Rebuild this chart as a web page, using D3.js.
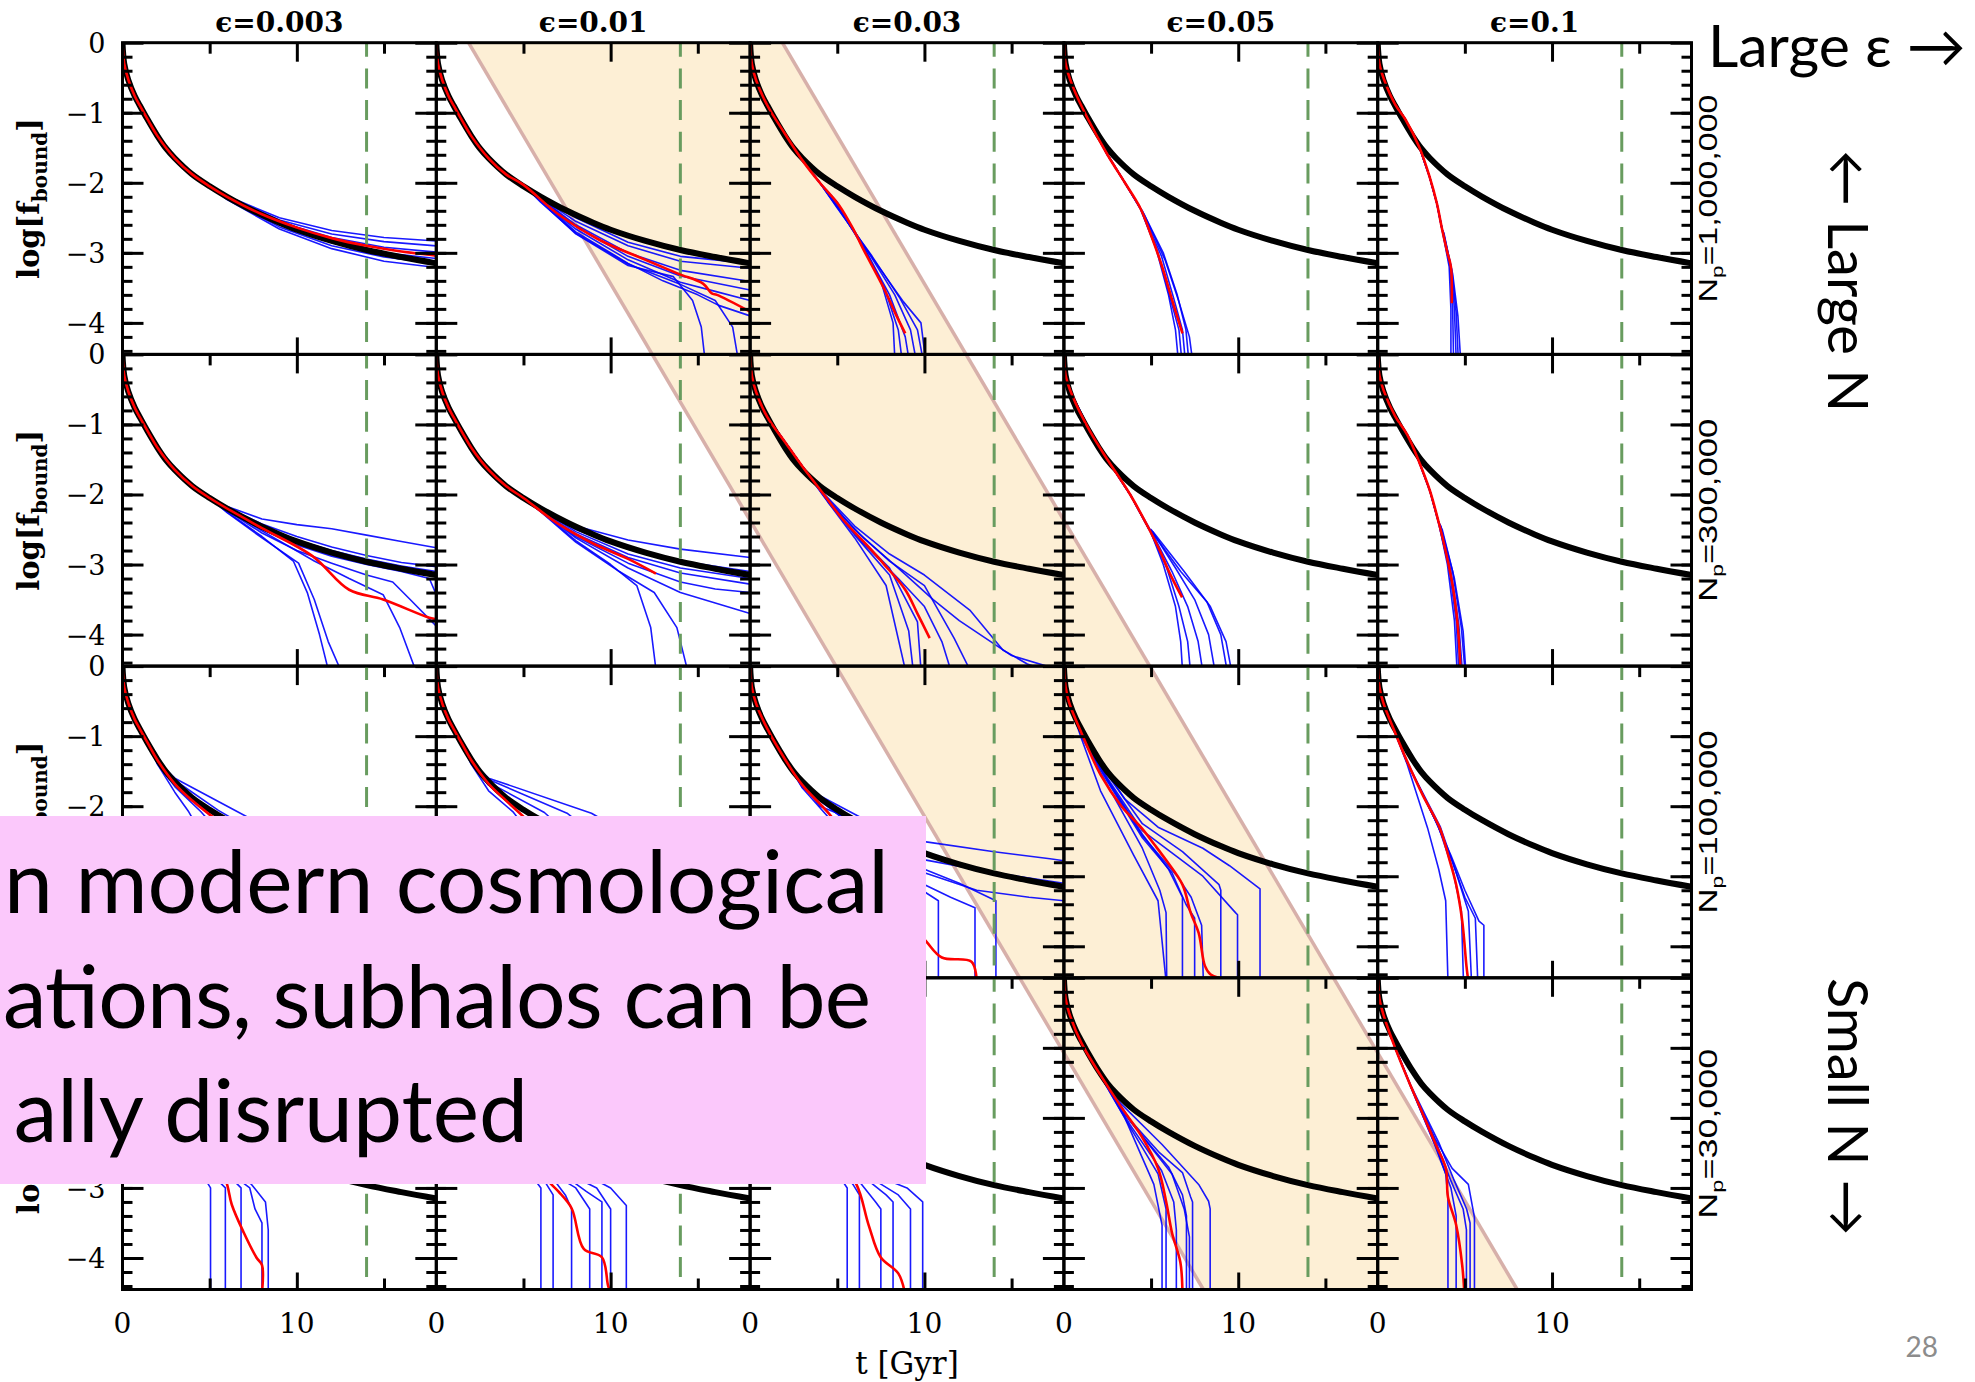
<!DOCTYPE html>
<html>
<head>
<meta charset="utf-8">
<script src="https://cdn.jsdelivr.net/npm/d3@7"></script>
<style>body{margin:0;background:#fff}</style>
</head>
<body>
<svg id="fig" width="1975" height="1382"></svg>
<script>
// column / row labels
const epsLabels = ["ϵ=0.003", "ϵ=0.01", "ϵ=0.03", "ϵ=0.05", "ϵ=0.1"];
const npLabels = ["1,000,000", "300,000", "100,000", "30,000"];
const npLengths = [208, 183, 183, 170];
const yTickLabels = [0, -1, -2, -3, -4];
const xTickLabels = [0, 10];
const hubbleT = 14;            // green dashed line
const bandTop = [1, 1.85];     // [column, t] of left band edge at top of grid
const bandBottom = [3, 8.0];   // [column, t] of left band edge at bottom of grid
// only the right-hand part of the slide text is on screen
const boxLines = ["n modern cosmological", "ations, subhalos can be", "ally disrupted"];

// black reference curve
const blackT = [0, 0.1, 0.33, 0.7, 1.0, 1.4, 2.0, 2.5, 3.0, 4.0, 5.0, 6.0, 7.5, 9.0, 10.0, 12.0, 14.0, 16.0, 18.0];
const blackLogF = [0, -0.3, -0.53, -0.76, -0.9, -1.08, -1.33, -1.51, -1.65, -1.88, -2.05, -2.2, -2.4, -2.57, -2.67, -2.83, -2.96, -3.06, -3.15];

// red curve per panel, [t, log f]; row = N_p, index = epsilon
const red1M = [
  [[0,0],[0.1,-0.3],[0.35,-0.54],[0.7,-0.76],[1,-0.9],[1.5,-1.12],[2,-1.33],[3,-1.65],[4,-1.88],[5,-2.05],[6,-2.2],[8,-2.45],[10,-2.64],[12,-2.79],[14,-2.9],[16,-2.98],[18,-3.04]],
  [[0,0],[0.1,-0.3],[0.35,-0.54],[0.7,-0.76],[1,-0.9],[1.5,-1.12],[2,-1.33],[3,-1.65],[4,-1.88],[5,-2.03],[7,-2.45],[9.4,-2.82],[12,-3.1],[13.9,-3.3],[15.3,-3.44],[15.8,-3.58],[16.1,-3.6],[18,-3.84]],
  [[0,0],[0.1,-0.3],[0.35,-0.54],[1,-0.9],[2,-1.3],[3,-1.68],[4,-2.0],[5.1,-2.32],[6,-2.7],[6.5,-2.95],[7.7,-3.52],[8.4,-3.9],[8.9,-4.15]],
  [[0,0],[0.1,-0.3],[0.5,-0.62],[1.4,-1.1],[2.5,-1.6],[3.5,-2.0],[4.4,-2.37],[5.0,-2.75],[5.6,-3.17],[6.3,-3.75],[6.8,-4.15]],
  [[0,0],[0.1,-0.3],[0.37,-0.53],[1.0,-0.88],[1.6,-1.1],[2.4,-1.5],[2.97,-1.91],[3.4,-2.3],[3.7,-2.67],[4.0,-3.0],[4.2,-3.2],[4.25,-3.72]]
];
const red300k = [
  [[0,0],[0.1,-0.3],[0.35,-0.54],[0.7,-0.76],[1,-0.9],[1.5,-1.12],[2,-1.33],[3,-1.65],[4,-1.88],[5,-2.05],[6,-2.2],[8,-2.48],[10.9,-2.88],[13,-3.36],[14.95,-3.5],[17.6,-3.76],[18,-3.78]],
  [[0,0],[0.1,-0.3],[0.35,-0.54],[0.7,-0.76],[1,-0.9],[1.5,-1.12],[2,-1.33],[3,-1.65],[4,-1.88],[5,-2.05],[7,-2.42],[9,-2.7],[11,-2.92],[12.6,-3.13]],
  [[0,0],[0.1,-0.3],[0.35,-0.54],[1,-0.9],[2,-1.25],[3,-1.6],[4.2,-1.99],[5.3,-2.35],[6.5,-2.67],[7.7,-3.0],[8.9,-3.36],[9.6,-3.7],[10.3,-4.05]],
  [[0,0],[0.1,-0.3],[0.47,-0.58],[1.5,-1.1],[2.57,-1.53],[3.8,-2.0],[4.9,-2.5],[5.5,-2.8],[6.08,-3.13],[6.78,-3.47]],
  [[0,0],[0.1,-0.3],[0.35,-0.52],[1.0,-0.88],[1.7,-1.15],[2.4,-1.55],[3.0,-1.95],[3.5,-2.4],[3.8,-2.7],[4.3,-3.3],[4.6,-3.9],[4.75,-4.5]]
];
const red100k = [
  [[0,0],[0.1,-0.3],[0.35,-0.54],[0.7,-0.76],[1,-0.9],[1.5,-1.12],[2,-1.34],[3,-1.68],[4,-1.92],[5,-2.12],[6,-2.3],[7,-2.6],[8,-3.0],[9,-3.5],[10,-4.0],[10.5,-4.5]],
  [[0,0],[0.1,-0.3],[0.35,-0.54],[0.7,-0.76],[1,-0.9],[1.5,-1.12],[2,-1.34],[3,-1.68],[4,-1.92],[5,-2.15],[6,-2.4],[8,-3.0],[10,-3.6],[11,-4.5]],
  [[0,0],[0.1,-0.3],[0.35,-0.54],[1,-0.9],[2,-1.33],[3,-1.7],[4.5,-2.1],[6,-2.6],[7.5,-3.1],[9,-3.6],[10.1,-3.93],[11,-4.16],[12.7,-4.22],[13.0,-4.5]],
  [[0,0],[0.1,-0.3],[0.3,-0.52],[1,-0.95],[2.1,-1.55],[3.3,-2.0],[4.45,-2.31],[5.2,-2.55],[5.86,-2.77],[6.8,-3.12],[7.27,-3.52],[7.73,-3.81],[8.09,-4.28],[8.4,-4.4],[8.9,-4.45]],
  [[0,0],[0.1,-0.3],[0.32,-0.52],[1,-0.95],[1.69,-1.36],[2.6,-1.85],[3.56,-2.31],[4.1,-2.75],[4.5,-3.12],[4.85,-3.64],[5.09,-4.28],[5.2,-4.5]]
];
const red30k = [
  [[0,0],[0.1,-0.3],[0.35,-0.54],[0.7,-0.76],[1,-0.9],[2,-1.36],[3,-1.75],[4,-2.1],[5,-2.5],[5.92,-2.89],[6.27,-3.24],[6.96,-3.64],[7.7,-4.0],[8.0,-4.1],[8.0,-4.5]],
  [[0,0],[0.1,-0.3],[0.35,-0.54],[1,-0.9],[2,-1.36],[3,-1.75],[4.5,-2.3],[6.37,-2.89],[7.0,-3.05],[7.76,-3.29],[8.46,-3.87],[9.5,-3.99],[9.85,-4.39],[10.0,-4.5]],
  [[0,0],[0.1,-0.3],[0.35,-0.54],[1,-0.92],[2,-1.4],[3,-1.8],[4.5,-2.4],[6.1,-2.95],[6.8,-3.53],[7.49,-3.99],[8.5,-4.22],[8.88,-4.5]],
  [[0,0],[0.1,-0.3],[0.3,-0.5],[1,-0.93],[2.1,-1.39],[3.3,-1.85],[4.45,-2.26],[5.4,-2.72],[5.86,-3.19],[6.21,-3.65],[6.68,-4.06],[6.8,-4.5]],
  [[0,0],[0.1,-0.3],[0.32,-0.52],[1,-1.0],[1.92,-1.56],[2.6,-1.95],[3.33,-2.38],[3.91,-2.72],[4.03,-3.13],[4.5,-3.53],[4.85,-4.11],[4.97,-4.5]]
];

// blue realisations: each branch leaves the red track at its first point
const blue1M = [
  [
    [[6,-2.19],[9,-2.5],[12,-2.68],[15,-2.78],[18,-2.83]],
    [[6,-2.2],[9,-2.53],[12,-2.73],[15,-2.84],[18,-2.9]],
    [[6,-2.21],[9,-2.56],[12,-2.78],[15,-2.92],[18,-2.99]],
    [[6,-2.22],[9,-2.6],[12,-2.85],[15,-3.0],[18,-3.08]],
    [[6,-2.23],[9,-2.63],[12,-2.9],[15,-3.06],[18,-3.15]],
    [[6,-2.24],[9,-2.66],[12,-2.94],[15,-3.12],[18,-3.21]]
  ],
  [
    [[5,-2.04],[8,-2.5],[11,-2.85],[14,-3.05],[18,-3.15]],
    [[5,-2.05],[8,-2.55],[11,-2.9],[14,-3.12],[18,-3.22]],
    [[5.5,-2.13],[8,-2.6],[11,-3.0],[14,-3.25],[18,-3.41]],
    [[5.5,-2.14],[8,-2.62],[11,-3.05],[14,-3.33],[16,-3.43],[18,-3.53]],
    [[5.5,-2.15],[8,-2.66],[11,-3.1],[14,-3.42],[16,-3.55],[18,-3.68]],
    [[6,-2.25],[8,-2.7],[11,-3.15],[13,-3.4],[15,-3.6],[16.2,-3.75],[18,-3.9]],
    [[6,-2.27],[8,-2.73],[11,-3.18],[13.6,-3.34],[14.7,-3.68],[15.2,-4.06],[15.4,-4.5]],
    [[6,-2.28],[8,-2.72],[11,-3.16],[14,-3.45],[16,-3.68],[17,-4.06],[17.3,-4.5]]
  ],
  [
    [[5,-2.28],[6.5,-2.9],[7.5,-3.4],[8.2,-4.0],[8.3,-4.5]],
    [[5,-2.3],[6.5,-2.93],[7.7,-3.5],[8.5,-4.1],[8.7,-4.5]],
    [[5,-2.33],[6.7,-3.0],[8.0,-3.6],[8.9,-4.2],[9.1,-4.5]],
    [[5,-2.35],[6.8,-3.0],[8.3,-3.6],[9.2,-4.1],[9.5,-4.5]],
    [[5,-2.36],[7.0,-3.05],[8.6,-3.65],[9.6,-4.1],[9.9,-4.5]],
    [[5,-2.34],[7.1,-3.1],[8.8,-3.7],[9.8,-4.0],[10.05,-4.5]]
  ],
  [
    [[4.4,-2.37],[5.3,-2.95],[6.0,-3.6],[6.4,-4.1],[6.55,-4.5]],
    [[4.4,-2.38],[5.4,-3.0],[6.1,-3.65],[6.6,-4.1],[6.75,-4.5]],
    [[4.5,-2.42],[5.6,-3.05],[6.3,-3.65],[6.8,-4.1],[6.95,-4.5]],
    [[4.5,-2.4],[5.7,-3.0],[6.5,-3.6],[7.0,-4.1],[7.15,-4.5]],
    [[4.6,-2.45],[5.8,-3.1],[6.6,-3.7],[7.2,-4.2],[7.36,-4.5]]
  ],
  [
    [[3.7,-2.67],[4.1,-3.2],[4.2,-3.8],[4.2,-4.5]],
    [[3.7,-2.68],[4.15,-3.2],[4.3,-3.8],[4.35,-4.5]],
    [[3.75,-2.7],[4.2,-3.2],[4.4,-3.8],[4.5,-4.5]],
    [[3.8,-2.72],[4.25,-3.25],[4.5,-3.85],[4.62,-4.5]],
    [[3.8,-2.74],[4.3,-3.3],[4.6,-3.9],[4.75,-4.5]]
  ]
];
const blue300k = [
  [
    [[6,-2.17],[8,-2.35],[10,-2.43],[12,-2.49],[14,-2.58],[16,-2.67],[18,-2.76]],
    [[6,-2.19],[8,-2.42],[10,-2.6],[12,-2.75],[14,-2.87],[16,-2.97],[18,-3.03]],
    [[6,-2.2],[8,-2.45],[10,-2.65],[12,-2.8],[14,-2.92],[16,-3.02],[18,-3.1]],
    [[6,-2.22],[8,-2.5],[10,-2.72],[12,-2.88],[14,-3.0],[16,-3.1],[17.6,-3.2],[18,-3.43]],
    [[6,-2.23],[8,-2.55],[10,-2.8],[12,-2.98],[14,-3.15],[15.5,-3.25],[16.5,-3.5],[18,-3.88]],
    [[6,-2.25],[8,-2.6],[9.8,-2.95],[10.6,-3.4],[11.3,-4.0],[11.8,-4.5]],
    [[6,-2.26],[8,-2.62],[10.1,-2.98],[11,-3.5],[11.8,-4.1],[12.5,-4.5]],
    [[6,-2.21],[8,-2.52],[11,-2.95],[13,-3.2],[14.95,-3.43],[15.9,-3.9],[16.8,-4.5]]
  ],
  [
    [[5,-2.04],[8,-2.45],[11,-2.65],[14,-2.78],[18,-2.9]],
    [[5,-2.05],[8,-2.5],[11,-2.78],[14,-2.95],[18,-3.1]],
    [[5,-2.06],[8,-2.53],[11,-2.85],[14,-3.05],[18,-3.2]],
    [[5,-2.07],[8,-2.56],[11,-2.9],[14,-3.12],[18,-3.28]],
    [[5.5,-2.14],[8,-2.6],[11,-2.98],[14,-3.25],[16,-3.35],[18,-3.4]],
    [[5.5,-2.15],[8,-2.62],[11,-3.05],[14,-3.4],[18,-3.7]],
    [[6,-2.24],[8,-2.66],[10,-3.0],[11.5,-3.3],[12.3,-3.9],[12.6,-4.5]],
    [[6,-2.25],[8,-2.68],[10.5,-3.1],[12.5,-3.4],[13.8,-3.9],[14.4,-4.5]]
  ],
  [
    [[4.2,-1.98],[6,-2.45],[8,-2.85],[10,-3.15],[12.6,-3.65],[14.5,-4.22],[15.9,-4.42],[16.8,-4.5]],
    [[4.2,-1.99],[6,-2.5],[8,-2.95],[10,-3.3],[11.7,-4.05],[12.6,-4.5]],
    [[4.2,-2.0],[6,-2.55],[8,-3.05],[9.6,-3.82],[9.8,-4.5]],
    [[4.2,-2.01],[6,-2.58],[8,-3.15],[9.1,-3.95],[9.35,-4.5]],
    [[4.2,-2.02],[6,-2.62],[7.8,-3.3],[8.9,-4.5]],
    [[4.5,-2.1],[6.5,-2.62],[8.5,-3.05],[10.5,-3.5],[12,-3.8],[13.5,-4.05],[15,-4.3],[17,-4.45]],
    [[4.5,-2.12],[6.5,-2.7],[8.5,-3.2],[10,-3.6],[11,-4.1],[11.5,-4.5]]
  ],
  [
    [[4.9,-2.48],[5.7,-3.0],[6.4,-3.6],[6.7,-4.1],[6.8,-4.5]],
    [[4.9,-2.5],[5.9,-3.05],[6.6,-3.6],[7.1,-4.1],[7.25,-4.5]],
    [[5,-2.52],[6.2,-3.1],[7.1,-3.6],[7.7,-4.1],[7.95,-4.5]],
    [[5,-2.5],[6.4,-3.05],[7.5,-3.5],[8.3,-4.0],[8.65,-4.5]],
    [[5.1,-2.55],[6.7,-3.1],[8.2,-3.53],[9.0,-4.0],[9.35,-4.5]],
    [[5.1,-2.53],[6.9,-3.1],[8.4,-3.6],[9.3,-4.1],[9.6,-4.5]]
  ],
  [
    [[3.5,-2.4],[4.0,-3.0],[4.4,-3.8],[4.55,-4.5]],
    [[3.5,-2.42],[4.1,-3.05],[4.5,-3.8],[4.65,-4.5]],
    [[3.6,-2.45],[4.2,-3.1],[4.65,-3.85],[4.85,-4.5]],
    [[3.6,-2.44],[4.3,-3.1],[4.8,-3.9],[5.0,-4.5]],
    [[3.7,-2.5],[4.4,-3.2],[4.9,-3.95],[5.05,-4.5]]
  ]
];
const blue100k = [
  [
    [[2,-1.4],[3,-1.8],[3.8,-2.08],[5,-2.6],[6,-3.2],[6.5,-4.5]],
    [[2,-1.39],[3,-1.72],[4.5,-2.08],[6,-2.5],[7.5,-3.2],[8,-4.5]],
    [[2,-1.38],[3,-1.66],[5,-2.05],[7,-2.4],[9,-2.8],[10,-4.5]],
    [[2,-1.37],[3,-1.63],[5.5,-2.06],[7.5,-2.35],[10,-2.7],[11,-4.5]],
    [[2,-1.36],[3,-1.6],[6.6,-2.08],[9,-2.4],[12,-2.8],[14,-4.5]]
  ],
  [
    [[2,-1.4],[3,-1.78],[4.4,-2.08],[6,-2.6],[7,-4.5]],
    [[2,-1.39],[3,-1.7],[5.3,-2.08],[7,-2.5],[9,-4.5]],
    [[2,-1.38],[3,-1.66],[6.2,-2.09],[8,-2.5],[11,-4.5]],
    [[2,-1.37],[3,-1.62],[7.5,-2.1],[10,-2.6],[13,-4.5]],
    [[2,-1.36],[3,-1.6],[8.9,-2.1],[11,-2.4],[14,-2.6],[15,-4.5]]
  ],
  [
    [[3,-1.68],[4.0,-2.0],[6,-2.2],[8,-2.35],[10.1,-2.51],[14,-2.65],[17.2,-2.75],[18,-2.78]],
    [[3,-1.7],[5,-2.1],[7,-2.4],[10.1,-2.77],[14,-2.95],[18,-3.1]],
    [[3,-1.71],[5.2,-2.15],[7.5,-2.6],[10,-2.95],[13,-3.2],[16,-3.3],[18,-3.35]],
    [[3,-1.72],[5.6,-2.2],[8,-2.9],[10.8,-3.35],[10.8,-4.5]],
    [[3,-1.73],[6,-2.3],[9,-3.0],[11.5,-3.3],[12.9,-3.45],[12.9,-4.5]],
    [[3,-1.72],[6.27,-2.15],[9,-2.8],[12,-3.1],[14.1,-3.35],[14.1,-4.5]],
    [[3,-1.74],[5,-2.3],[7,-3.0],[8.5,-4.0],[9,-4.5]]
  ],
  [
    [[1,-0.95],[2.1,-1.38],[3.5,-1.9],[5.4,-2.3],[7.97,-2.6],[9.5,-2.85],[11.25,-3.18],[11.25,-4.5]],
    [[1,-0.96],[2.5,-1.55],[4.5,-2.25],[6.8,-2.65],[8.9,-3.12],[9.0,-3.2],[9.0,-4.5]],
    [[1,-0.97],[2.5,-1.6],[4.5,-2.35],[7.97,-3.0],[9.84,-3.52],[9.96,-3.55],[9.96,-4.5]],
    [[1,-0.98],[2.5,-1.62],[4.5,-2.4],[6.0,-2.9],[6.8,-3.3],[6.8,-4.5]],
    [[1,-1.0],[2.5,-1.7],[4.5,-2.6],[5.5,-3.2],[5.86,-3.52],[5.9,-4.5]],
    [[1,-1.03],[2.1,-1.78],[4.0,-2.7],[5.4,-3.35],[5.86,-4.5]],
    [[1,-0.99],[2.5,-1.65],[4.5,-2.45],[6.2,-2.95],[7.0,-3.4],[7.5,-3.6],[7.5,-4.5]],
    [[1,-0.98],[2.5,-1.63],[4.5,-2.42],[6.5,-3.0],[7.3,-3.3],[7.9,-3.7],[8.0,-4.5]]
  ],
  [
    [[1.69,-1.4],[2.86,-2.31],[3.5,-2.9],[3.9,-3.35],[4.03,-4.5]],
    [[1.69,-1.37],[3.3,-2.2],[4.2,-2.7],[5.0,-3.2],[5.81,-3.64],[6.09,-3.7],[6.09,-4.5]],
    [[1.69,-1.37],[3.4,-2.25],[4.3,-2.8],[5.0,-3.3],[5.6,-3.6],[5.74,-4.5]],
    [[1.69,-1.38],[3.5,-2.3],[4.3,-2.9],[4.8,-3.5],[4.92,-4.5]],
    [[1.69,-1.38],[3.6,-2.3],[4.5,-2.95],[5.2,-3.5],[5.38,-4.5]]
  ]
];
const blue30k = [
  [
    [[2,-1.4],[3.5,-2.2],[4.8,-2.9],[5.05,-3.0],[5.05,-4.5]],
    [[2,-1.41],[4,-2.3],[5.5,-2.9],[5.9,-3.0],[5.9,-4.5]],
    [[2,-1.39],[4,-2.2],[6,-2.8],[6.8,-3.0],[6.8,-4.5]],
    [[2,-1.4],[4,-2.15],[6.5,-2.85],[7.3,-3.0],[7.6,-3.3],[8.0,-3.5],[8.0,-4.5]],
    [[2,-1.38],[4,-2.1],[6.5,-2.8],[7.4,-2.95],[8.2,-3.2],[8.36,-3.6],[8.36,-4.5]]
  ],
  [
    [[2,-1.41],[4,-2.3],[5.7,-2.9],[6.0,-3.0],[6.0,-4.5]],
    [[2,-1.4],[4,-2.2],[6.2,-2.9],[6.7,-3.1],[6.7,-4.5]],
    [[2,-1.39],[4,-2.15],[6.8,-2.9],[7.4,-3.1],[7.76,-3.3],[7.76,-4.5]],
    [[2,-1.39],[4,-2.12],[7,-2.85],[8,-3.0],[8.8,-3.3],[8.8,-4.5]],
    [[2,-1.38],[4,-2.1],[7.5,-2.85],[8.6,-3.05],[9.5,-3.2],[9.5,-4.5]],
    [[2,-1.38],[4,-2.05],[8,-2.85],[9.2,-3.0],[10.0,-3.3],[10.0,-4.5]],
    [[2,-1.37],[4,-2.0],[8.5,-2.8],[10,-3.0],[10.9,-3.25],[10.9,-4.5]]
  ],
  [
    [[2,-1.43],[4,-2.3],[5.3,-2.9],[5.57,-3.0],[5.57,-4.5]],
    [[2,-1.42],[4,-2.25],[5.9,-2.95],[6.27,-3.1],[6.27,-4.5]],
    [[2,-1.41],[4,-2.2],[6.4,-2.95],[7.2,-3.2],[7.5,-3.3],[7.5,-4.5]],
    [[2,-1.4],[4,-2.15],[6.8,-2.9],[7.8,-3.1],[8.2,-3.2],[8.2,-4.5]],
    [[2,-1.4],[4,-2.1],[7.2,-2.9],[8.5,-3.1],[9.2,-3.3],[9.2,-4.5]],
    [[2,-1.39],[4,-2.05],[7.5,-2.85],[9,-3.0],[9.9,-3.2],[9.9,-4.5]]
  ],
  [
    [[2.1,-1.38],[3.28,-1.8],[5.63,-2.38],[7.73,-2.95],[8.3,-3.19],[8.39,-3.3],[8.39,-4.5]],
    [[2.1,-1.39],[3.5,-1.95],[5.5,-2.5],[6.8,-2.78],[7.27,-3.13],[7.38,-3.2],[7.38,-4.5]],
    [[2.1,-1.4],[3.5,-2.0],[5.16,-2.95],[5.63,-3.53],[5.63,-4.5]],
    [[2.1,-1.4],[3.6,-2.05],[5.4,-2.8],[5.86,-3.3],[5.86,-4.5]],
    [[2.1,-1.39],[3.8,-2.1],[5.6,-2.75],[6.3,-3.2],[6.45,-3.6],[6.45,-4.5]],
    [[2.1,-1.38],[3.8,-2.05],[6.0,-2.7],[6.8,-3.1],[7.03,-3.4],[7.03,-4.5]],
    [[2.1,-1.39],[4,-2.1],[6.2,-2.8],[6.9,-3.3],[7.2,-3.7],[7.2,-4.5]]
  ],
  [
    [[1.92,-1.56],[3.3,-2.3],[4.27,-2.72],[5.2,-2.95],[5.55,-3.42],[5.55,-4.5]],
    [[1.92,-1.57],[3.3,-2.4],[3.9,-2.8],[4.03,-3.13],[4.03,-4.5]],
    [[1.92,-1.56],[3.4,-2.38],[4.2,-2.9],[4.9,-3.3],[5.09,-3.6],[5.09,-4.5]],
    [[1.92,-1.55],[3.5,-2.35],[4.4,-2.9],[5.1,-3.3],[5.3,-3.5],[5.3,-4.5]],
    [[1.92,-1.57],[3.4,-2.45],[4.2,-3.0],[4.5,-3.4],[4.5,-4.5]]
  ]
];

const redRows = [red1M, red300k, red100k, red30k];
const blueRows = [blue1M, blue300k, blue100k, blue30k];

// layout
const W = 1975, H = 1382;
const gridLeft = 122.5, gridTop = 42.7, pw = 313.8, ph = 311.7;
const box = {x: 0, y: 816, w: 926, h: 368};
const serif = "'DejaVu Serif', serif";
const sans = "'Liberation Sans', Arial, sans-serif";
const slide = "Lato, 'Open Sans', sans-serif";

const svg = d3.select("#fig");
svg.append("rect").attr("width", W).attr("height", H).attr("fill", "#fff");
svg.append("defs").append("clipPath").attr("id", "pclip")
  .append("rect").attr("width", pw).attr("height", ph);

const x = d3.scaleLinear().domain([0, 18]).range([0, pw]);
const y = d3.scaleLinear().domain([0, -4.45]).range([0, ph]);
const colX = d3.scaleLinear().domain([0, 5]).range([gridLeft, gridLeft + 5 * pw]);
const rowY = d3.scaleLinear().domain([0, 4]).range([gridTop, gridTop + 4 * ph]);

// diagonal band across the whole grid
const gx = (c, t) => colX(c) + x(t);
const bandPts = [
  [gx(bandTop[0], bandTop[1]), rowY(0)],
  [gx(bandTop[0] + 1, bandTop[1]), rowY(0)],
  [gx(bandBottom[0] + 1, bandBottom[1]), rowY(4)],
  [gx(bandBottom[0], bandBottom[1]), rowY(4)]
];
svg.append("path").attr("d", "M" + bandPts.join("L") + "Z").attr("fill", "#fdefd5");
[[0, 3], [1, 2]].forEach(([a, b]) => {
  svg.append("line")
    .attr("x1", bandPts[a][0]).attr("y1", bandPts[a][1])
    .attr("x2", bandPts[b][0]).attr("y2", bandPts[b][1])
    .attr("stroke", "#d7b0aa").attr("stroke-width", 3.5);
});

const line = d3.line().x(d => x(d[0])).y(d => y(d[1]));
const smooth = d3.line().curve(d3.curveCatmullRom.alpha(0.5)).x(d => x(d[0])).y(d => y(d[1]));
const blackPts = blackT.map((t, i) => [t, blackLogF[i]]);

const yMinor = d3.range(-0.2, -4.41, -0.2);
function clean(sel) {
  sel.select(".domain").remove();
  sel.selectAll("text").remove();
  sel.selectAll("line").attr("stroke", "#000").attr("stroke-width", 3);
}
const underBox = (px, py) => px >= box.x && px <= box.x + box.w && py >= box.y && py <= box.y + box.h;

for (let r = 0; r < 4; r++) {
  for (let c = 0; c < 5; c++) {
    const red = redRows[r][c];
    const g = svg.append("g").attr("transform", `translate(${colX(c)},${rowY(r)})`);
    const inner = g.append("g").attr("clip-path", "url(#pclip)");

    blueRows[r][c].forEach(b => {
      const pts = red.filter(p => p[0] < b[0][0]).concat(b);
      inner.append("path").attr("d", line(pts))
        .attr("fill", "none").attr("stroke", "#0000ff")
        .attr("stroke-width", 1.6).attr("stroke-opacity", 0.9)
        .attr("stroke-linejoin", "round");
    });

    inner.append("path").attr("d", smooth(blackPts))
      .attr("fill", "none").attr("stroke", "#000").attr("stroke-width", 6);

    inner.append("line")
      .attr("x1", x(hubbleT)).attr("x2", x(hubbleT))
      .attr("y1", 0).attr("y2", ph)
      .attr("stroke", "#689c5f").attr("stroke-width", 3)
      .attr("stroke-dasharray", "20 11.7").attr("stroke-dashoffset", 6);

    inner.append("path").attr("d", smooth(red))
      .attr("fill", "none").attr("stroke", "#ff0000")
      .attr("stroke-width", 2.6).attr("stroke-linejoin", "round");

    g.append("rect").attr("width", pw).attr("height", ph)
      .attr("fill", "none").attr("stroke", "#000").attr("stroke-width", 3);

    // ticks point inwards on all four sides
    g.append("g").call(d3.axisRight(y).tickValues(yTickLabels).tickSize(21)).call(clean);
    g.append("g").call(d3.axisRight(y).tickValues(yMinor).tickSize(10)).call(clean);
    g.append("g").attr("transform", `translate(${pw},0)`)
      .call(d3.axisLeft(y).tickValues(yTickLabels).tickSize(21)).call(clean);
    g.append("g").attr("transform", `translate(${pw},0)`)
      .call(d3.axisLeft(y).tickValues(yMinor).tickSize(10)).call(clean);
    g.append("g").call(d3.axisBottom(x).tickValues([10]).tickSize(19)).call(clean);
    g.append("g").call(d3.axisBottom(x).tickValues([5, 15]).tickSize(11)).call(clean);
    g.append("g").attr("transform", `translate(0,${ph})`)
      .call(d3.axisTop(x).tickValues([10]).tickSize(17)).call(clean);
    if (r === 3) {
      g.append("g").attr("transform", `translate(0,${ph})`)
        .call(d3.axisTop(x).tickValues([5, 15]).tickSize(11)).call(clean);
    }
  }

  // y tick labels (those under the pink box are not visible)
  yTickLabels.forEach(v => {
    const ty = rowY(r) + y(v);
    if (underBox(colX(0) - 30, ty)) return;
    svg.append("text")
      .attr("x", colX(0) - 17).attr("y", ty + 10)
      .attr("text-anchor", "end")
      .attr("font-family", serif).attr("font-size", 27)
      .text(v === 0 ? "0" : "\u2212" + Math.abs(v));
  });

  // y axis title
  const yl = svg.append("text")
    .attr("transform", `translate(39,${rowY(r) + ph / 2}) rotate(-90)`)
    .attr("text-anchor", "middle")
    .attr("font-family", serif).attr("font-weight", "bold").attr("font-size", 29);
  yl.append("tspan").text("log[f");
  yl.append("tspan").attr("font-size", 20).attr("dy", 8).text("bound");
  yl.append("tspan").attr("dy", -8).text("]");

  // N_p label
  const nl = svg.append("text")
    .attr("transform", `translate(1717,${rowY(r) + ph / 2}) rotate(-90)`)
    .attr("text-anchor", "middle")
    .attr("textLength", npLengths[r]).attr("lengthAdjust", "spacingAndGlyphs")
    .attr("font-family", sans).attr("font-size", 26);
  nl.append("tspan").text("N");
  nl.append("tspan").attr("font-size", 17).attr("dy", 6).text("p");
  nl.append("tspan").attr("dy", -6).text("=" + npLabels[r]);
}

// column titles and x tick labels
epsLabels.forEach((lab, c) => {
  svg.append("text")
    .attr("x", colX(c) + pw / 2).attr("y", 32)
    .attr("text-anchor", "middle")
    .attr("font-family", serif).attr("font-weight", "bold").attr("font-size", 28)
    .text(lab);
  xTickLabels.forEach(v => {
    svg.append("text")
      .attr("x", colX(c) + x(v)).attr("y", 1333)
      .attr("text-anchor", "middle")
      .attr("font-family", serif).attr("font-size", 28)
      .text(v);
  });
});
svg.append("text")
  .attr("x", colX(2.5)).attr("y", 1374)
  .attr("text-anchor", "middle")
  .attr("font-family", serif).attr("font-size", 31)
  .text("t [Gyr]");

// slide annotations
svg.append("text").attr("x", 1708).attr("y", 67)
  .attr("font-family", slide).attr("font-size", 59).text("Large ε →");
svg.append("text").attr("transform", "translate(1828,150) rotate(90)")
  .attr("font-family", slide).attr("font-size", 56).text("← Large N");
svg.append("text").attr("transform", "translate(1828,978) rotate(90)")
  .attr("font-family", slide).attr("font-size", 56).text("Small N →");
svg.append("text").attr("x", 1938).attr("y", 1357).attr("text-anchor", "end")
  .attr("font-family", slide).attr("font-size", 28).attr("fill", "#8c8c8c").text("28");

// pink overlay box
svg.append("rect").attr("x", box.x).attr("y", box.y).attr("width", box.w).attr("height", box.h)
  .attr("fill", "#fbc8fb");
const probe = svg.append("text").attr("font-family", slide).attr("font-size", 100).text(boxLines[0]);
const boxSize = 100 * 885 / probe.node().getComputedTextLength();
probe.remove();
const boxEnds = [[889, 913], [871, 1028], [528, 1142]];
boxLines.forEach((t, i) => {
  const tx = svg.append("text")
    .attr("x", boxEnds[i][0]).attr("y", boxEnds[i][1])
    .attr("text-anchor", "end")
    .attr("font-family", slide).attr("font-size", boxSize)
    .text(t);
  const len = tx.node().getComputedTextLength();
  if (len > boxEnds[i][0] - 3) {
    tx.attr("textLength", boxEnds[i][0] - 3).attr("lengthAdjust", "spacing");
  }
});
</script>
</body>
</html>
